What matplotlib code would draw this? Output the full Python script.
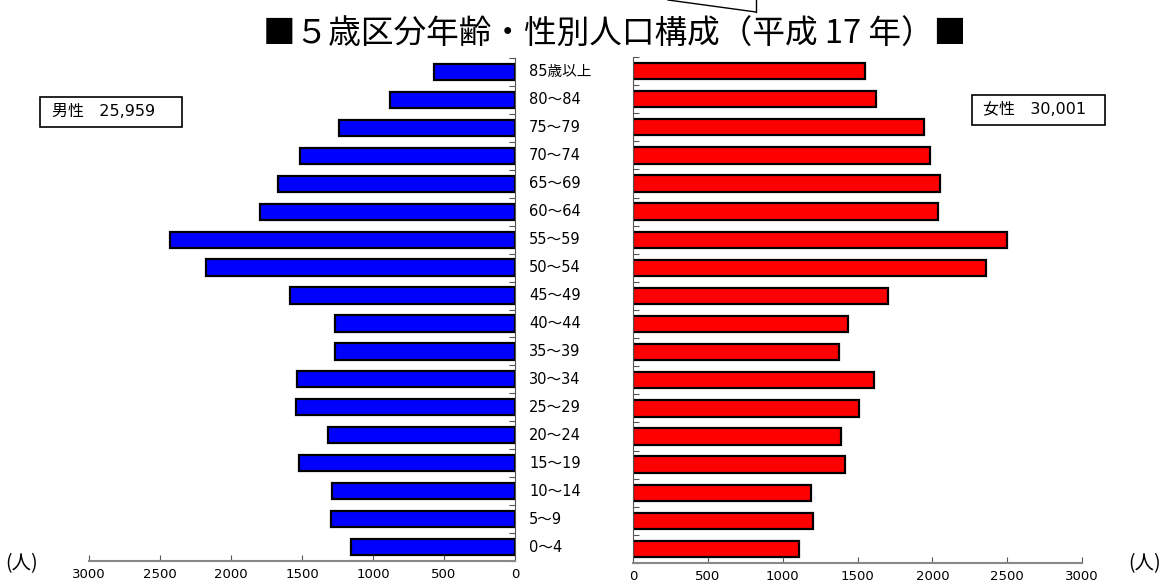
import numpy as np
import matplotlib
matplotlib.use("Agg")
import matplotlib.pyplot as plt
from matplotlib import transforms
from matplotlib.patches import Rectangle
from matplotlib.lines import Line2D

plt.rcParams['font.family'] = ['Noto Sans CJK JP', 'DejaVu Sans']

# Age groups (top to bottom) and population by sex
ages = ["85歳以上", "80～84", "75～79", "70～74", "65～69", "60～64", "55～59",
        "50～54", "45～49", "40～44", "35～39", "30～34", "25～29", "20～24",
        "15～19", "10～14", "5～9", "0～4"]
male = [573, 880, 1237, 1512, 1671, 1796, 2430, 2178, 1585, 1268, 1268,
        1537, 1544, 1319, 1523, 1289, 1296, 1155]
female = [1549, 1624, 1945, 1985, 2049, 2038, 2499, 2361, 1702, 1437, 1377,
          1609, 1511, 1393, 1417, 1188, 1206, 1106]
x_ticks = [0, 500, 1000, 1500, 2000, 2500, 3000]
male_total = "男性   25,959"
female_total = "女性   30,001"

W, H = 1163, 582
fig = plt.figure(figsize=(W / 100, H / 100), dpi=100)
mixed = ["DejaVu Sans", "Noto Sans CJK JP"]


def fx(px):
    return px / W


def fy(py):
    return 1 - py / H


y = np.arange(len(ages))

# left (male) axes: pixel box x 89..515, y 58..561
ax1 = fig.add_axes([fx(89), fy(561), fx(515 - 89), (561 - 58) / H])
# right (female) axes: pixel box x 633..1082, y 57..563
ax2 = fig.add_axes([fx(633), fy(563), fx(1082 - 633), (563 - 57) / H])

ax1.barh(y, male, height=0.58, color="#0000ff", edgecolor="black", linewidth=1.6)
ax2.barh(y, female, height=0.58, color="#ff0000", edgecolor="black", linewidth=1.6)

ax1.set_xlim(3000, 0)
ax2.set_xlim(0, 3000)
for ax in (ax1, ax2):
    ax.set_ylim(len(ages) - 0.5, -0.5)
    ax.set_yticks(np.arange(-0.5, len(ages), 1))
    ax.set_yticklabels([])
    ax.set_xticks(x_ticks)
    ax.set_xticklabels([str(t) for t in x_ticks], family="DejaVu Sans", fontsize=9.5)
    ax.tick_params(axis="x", direction="in", length=4, pad=5, color="#555555")
    ax.spines["top"].set_visible(False)
    ax.spines["bottom"].set_color("#888888")
    ax.spines["bottom"].set_linewidth(1.5)
    ax.set_facecolor("none")

ax1.spines["left"].set_visible(False)
ax1.spines["right"].set_color("#555555")
ax1.tick_params(axis="y", left=False, right=True, direction="in", length=4, color="#555555")
ax2.spines["right"].set_visible(False)
ax2.spines["left"].set_color("#555555")
ax2.tick_params(axis="y", left=True, right=False, direction="in", length=4, color="#555555")

# age labels between the two halves
trans = transforms.blended_transform_factory(fig.transFigure, ax1.transData)
for i, lab in enumerate(ages):
    fig.text(fx(529), i, lab, transform=trans, ha="left", va="center",
             fontsize=10.5, family=mixed)

# title
fig.text(fx(615), fy(35), "■５歳区分年齢・性別人口構成（平成 17 年）■",
         ha="center", va="center", fontsize=23.5)

# callout lines at the top
fig.add_artist(Line2D([fx(668), fx(756)], [fy(0), fy(12)], color="black", linewidth=1))
fig.add_artist(Line2D([fx(756), fx(756)], [fy(0), fy(12)], color="black", linewidth=1))

# total boxes
fig.add_artist(Rectangle((fx(40), fy(127)), fx(142), 30 / H, fill=False,
                         edgecolor="black", linewidth=1.2))
fig.text(fx(52), fy(112), male_total, ha="left", va="center", fontsize=11.5, family=mixed)
fig.add_artist(Rectangle((fx(972), fy(125)), fx(133), 30 / H, fill=False,
                         edgecolor="black", linewidth=1.2))
fig.text(fx(983), fy(110), female_total, ha="left", va="center", fontsize=11.5, family=mixed)

# unit labels
fig.text(fx(22), fy(564), "(人)", ha="center", va="center", fontsize=14)
fig.text(fx(1145), fy(564), "(人)", ha="center", va="center", fontsize=14)

fig.savefig("out.png", dpi=100)
